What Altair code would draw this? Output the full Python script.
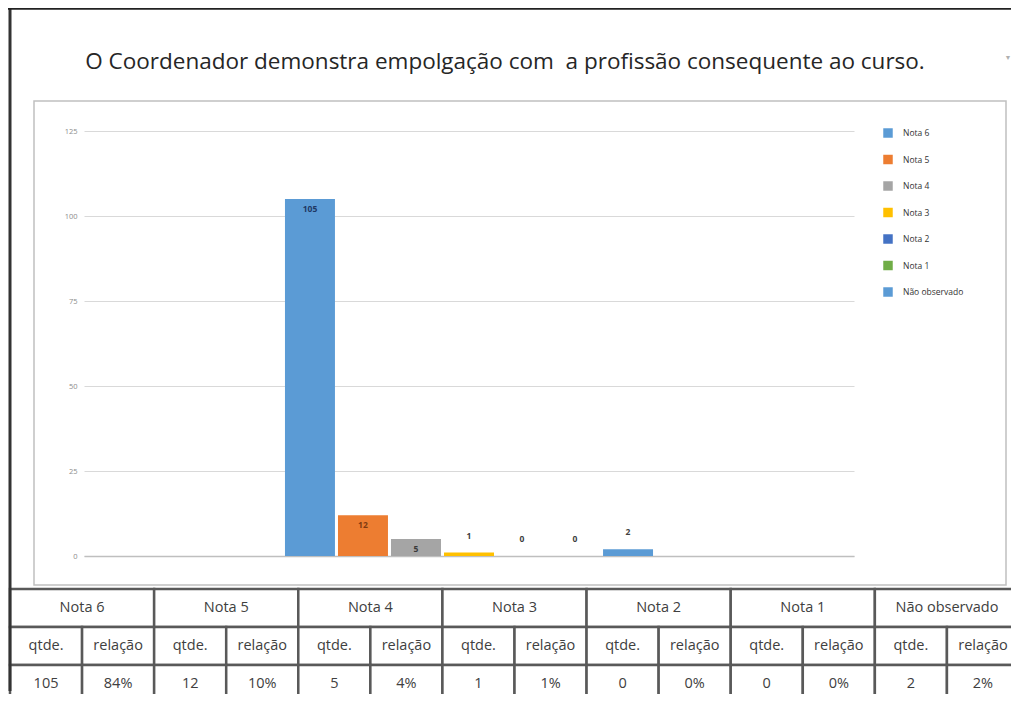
import altair as alt
import pandas as pd

# ---- data ----
categories = ["Nota 6", "Nota 5", "Nota 4", "Nota 3", "Nota 2", "Nota 1", "Não observado"]
qtde = [105, 12, 5, 1, 0, 0, 2]
relacao = ["84%", "10%", "4%", "1%", "0%", "0%", "2%"]
bar_colors = ["#5B9BD5", "#ED7D31", "#A5A5A5", "#FFC000", "#4472C4", "#70AD47", "#5B9BD5"]
label_colors = ["#1F3864", "#7F3A10", "#3A3A3A", "#404040", "#404040", "#404040", "#404040"]
y_ticks = [0, 25, 50, 75, 100, 125]
sub_headers = ["qtde.", "relação"]
title_text = "O Coordenador demonstra empolgação com  a profissão consequente ao curso."

FONT = "Open Sans"

bars_df = pd.DataFrame({"grp": ["g"] * len(categories), "serie": categories, "qtde": qtde, "lc": label_colors})

x_enc = alt.X(
    "grp:N",
    scale=alt.Scale(paddingInner=0, paddingOuter=0.546),
    axis=alt.Axis(labels=False, ticks=False, title=None, grid=False,
                  domainColor="#bfbfbf", domainWidth=1.5),
)
xo_enc = alt.XOffset("serie:N", sort=categories,
                     scale=alt.Scale(domain=categories, paddingInner=0.057, paddingOuter=0))
y_enc = alt.Y(
    "qtde:Q",
    scale=alt.Scale(domain=[0, 125], nice=False),
    axis=alt.Axis(values=y_ticks, title=None, domain=False, ticks=False,
                  labelFontSize=7.5, labelColor="#8c8c8c", labelPadding=7,
                  gridColor="#d9d9d9", gridWidth=1, labelFont=FONT),
)

bars = alt.Chart(bars_df).mark_bar().encode(
    x=x_enc,
    xOffset=xo_enc,
    y=y_enc,
    color=alt.Color(
        "serie:N",
        scale=alt.Scale(domain=categories, range=bar_colors),
        legend=alt.Legend(orient="none", legendX=799, legendY=-3, title=None,
                          symbolType="square", symbolSize=90, symbolStrokeWidth=0,
                          labelFontSize=8.5, labelColor="#333333", labelFont=FONT,
                          rowPadding=16.5, labelOffset=10, padding=0),
    ),
)

labels_in = alt.Chart(bars_df).transform_filter("datum.qtde >= 5").mark_text(
    baseline="middle", dy=10, fontSize=8.5, fontWeight="bold", font=FONT
).encode(x="grp:N", xOffset=alt.XOffset("serie:N", sort=categories), y="qtde:Q", text="qtde:Q",
         color=alt.Color("lc:N", scale=None))

labels_out = alt.Chart(bars_df).transform_filter("datum.qtde < 5").mark_text(
    baseline="middle", dy=-17, fontSize=8.5, fontWeight="bold", font=FONT, color="#404040"
).encode(x="grp:N", xOffset=alt.XOffset("serie:N", sort=categories), y="qtde:Q", text="qtde:Q")

chart_group = alt.layer(bars, labels_in, labels_out)

# ---- table ----
rows = []
for i, cat in enumerate(categories):
    rows.append({"x0": 2 * i, "x1": 2 * i + 2, "y0": 0, "y1": 1, "t": cat})
    for j, sh in enumerate(sub_headers):
        rows.append({"x0": 2 * i + j, "x1": 2 * i + j + 1, "y0": 1, "y1": 2, "t": sh})
    rows.append({"x0": 2 * i, "x1": 2 * i + 1, "y0": 2, "y1": 3, "t": str(qtde[i])})
    rows.append({"x0": 2 * i + 1, "x1": 2 * i + 2, "y0": 2, "y1": 3, "t": relacao[i]})
tdf = pd.DataFrame(rows)
tdf["xm"] = (tdf["x0"] + tdf["x1"]) / 2
tdf["ym"] = (tdf["y0"] + tdf["y1"]) / 2

tx = alt.Scale(domain=[0, 14], range=[-74, 935], nice=False, zero=False)
ty = alt.Scale(domain=[0, 3], range=[458, 572], nice=False, zero=False)

table_rects = alt.Chart(tdf).mark_rect(fill="white", stroke="#595959", strokeWidth=2.5).encode(
    x=alt.X("x0:Q", scale=tx, axis=None), x2="x1:Q",
    y=alt.Y("y0:Q", scale=ty, axis=None), y2="y1:Q",
)
table_text = alt.Chart(tdf).mark_text(fontSize=14.5, font=FONT, color="#404040", baseline="middle").encode(
    x=alt.X("xm:Q", scale=tx, axis=None),
    y=alt.Y("ym:Q", scale=ty, axis=None),
    text="t:N",
)
table_group = alt.layer(table_rects, table_text)

# ---- decorations (frame, chart box, title) ----
one = pd.DataFrame({"a": [0]})
box = alt.Chart(one).mark_rect(fillOpacity=0, stroke="#c0c0c0", strokeWidth=1.5).encode(
    x=alt.value(-50), x2=alt.value(922), y=alt.value(-30), y2=alt.value(454)
)
title = alt.Chart(one).mark_text(text=title_text.replace("  ", " \u00a0"), fontSize=22.5, font=FONT,
                                 color="#262626", align="center", baseline="middle").encode(
    x=alt.value(421), y=alt.value(-69)
)
arrow = alt.Chart(one).mark_text(text="▼", fontSize=7, color="#b0b0b0", align="center",
                                 baseline="middle").encode(x=alt.value(924), y=alt.value(-73))
frame_top = alt.Chart(one).mark_rule(color="#222222", strokeWidth=2.5).encode(
    x=alt.value(-76), x2=alt.value(930), y=alt.value(-122.5)
)
frame_left = alt.Chart(one).mark_rule(color="#333333", strokeWidth=3).encode(
    x=alt.value(-74), y=alt.value(-123), y2=alt.value(560)
)

chart = alt.layer(box, title, arrow, chart_group, table_group, frame_left, frame_top).resolve_scale(
    x="independent", y="independent"
).properties(
    width=770, height=425,
    padding={"left": 76, "top": 123, "right": 157, "bottom": 138},
    autosize=alt.AutoSizeParams(type="none"),
    background="white",
).configure_view(stroke=None)

chart.save("out.html", embed_options={"renderer": "svg", "actions": False})
